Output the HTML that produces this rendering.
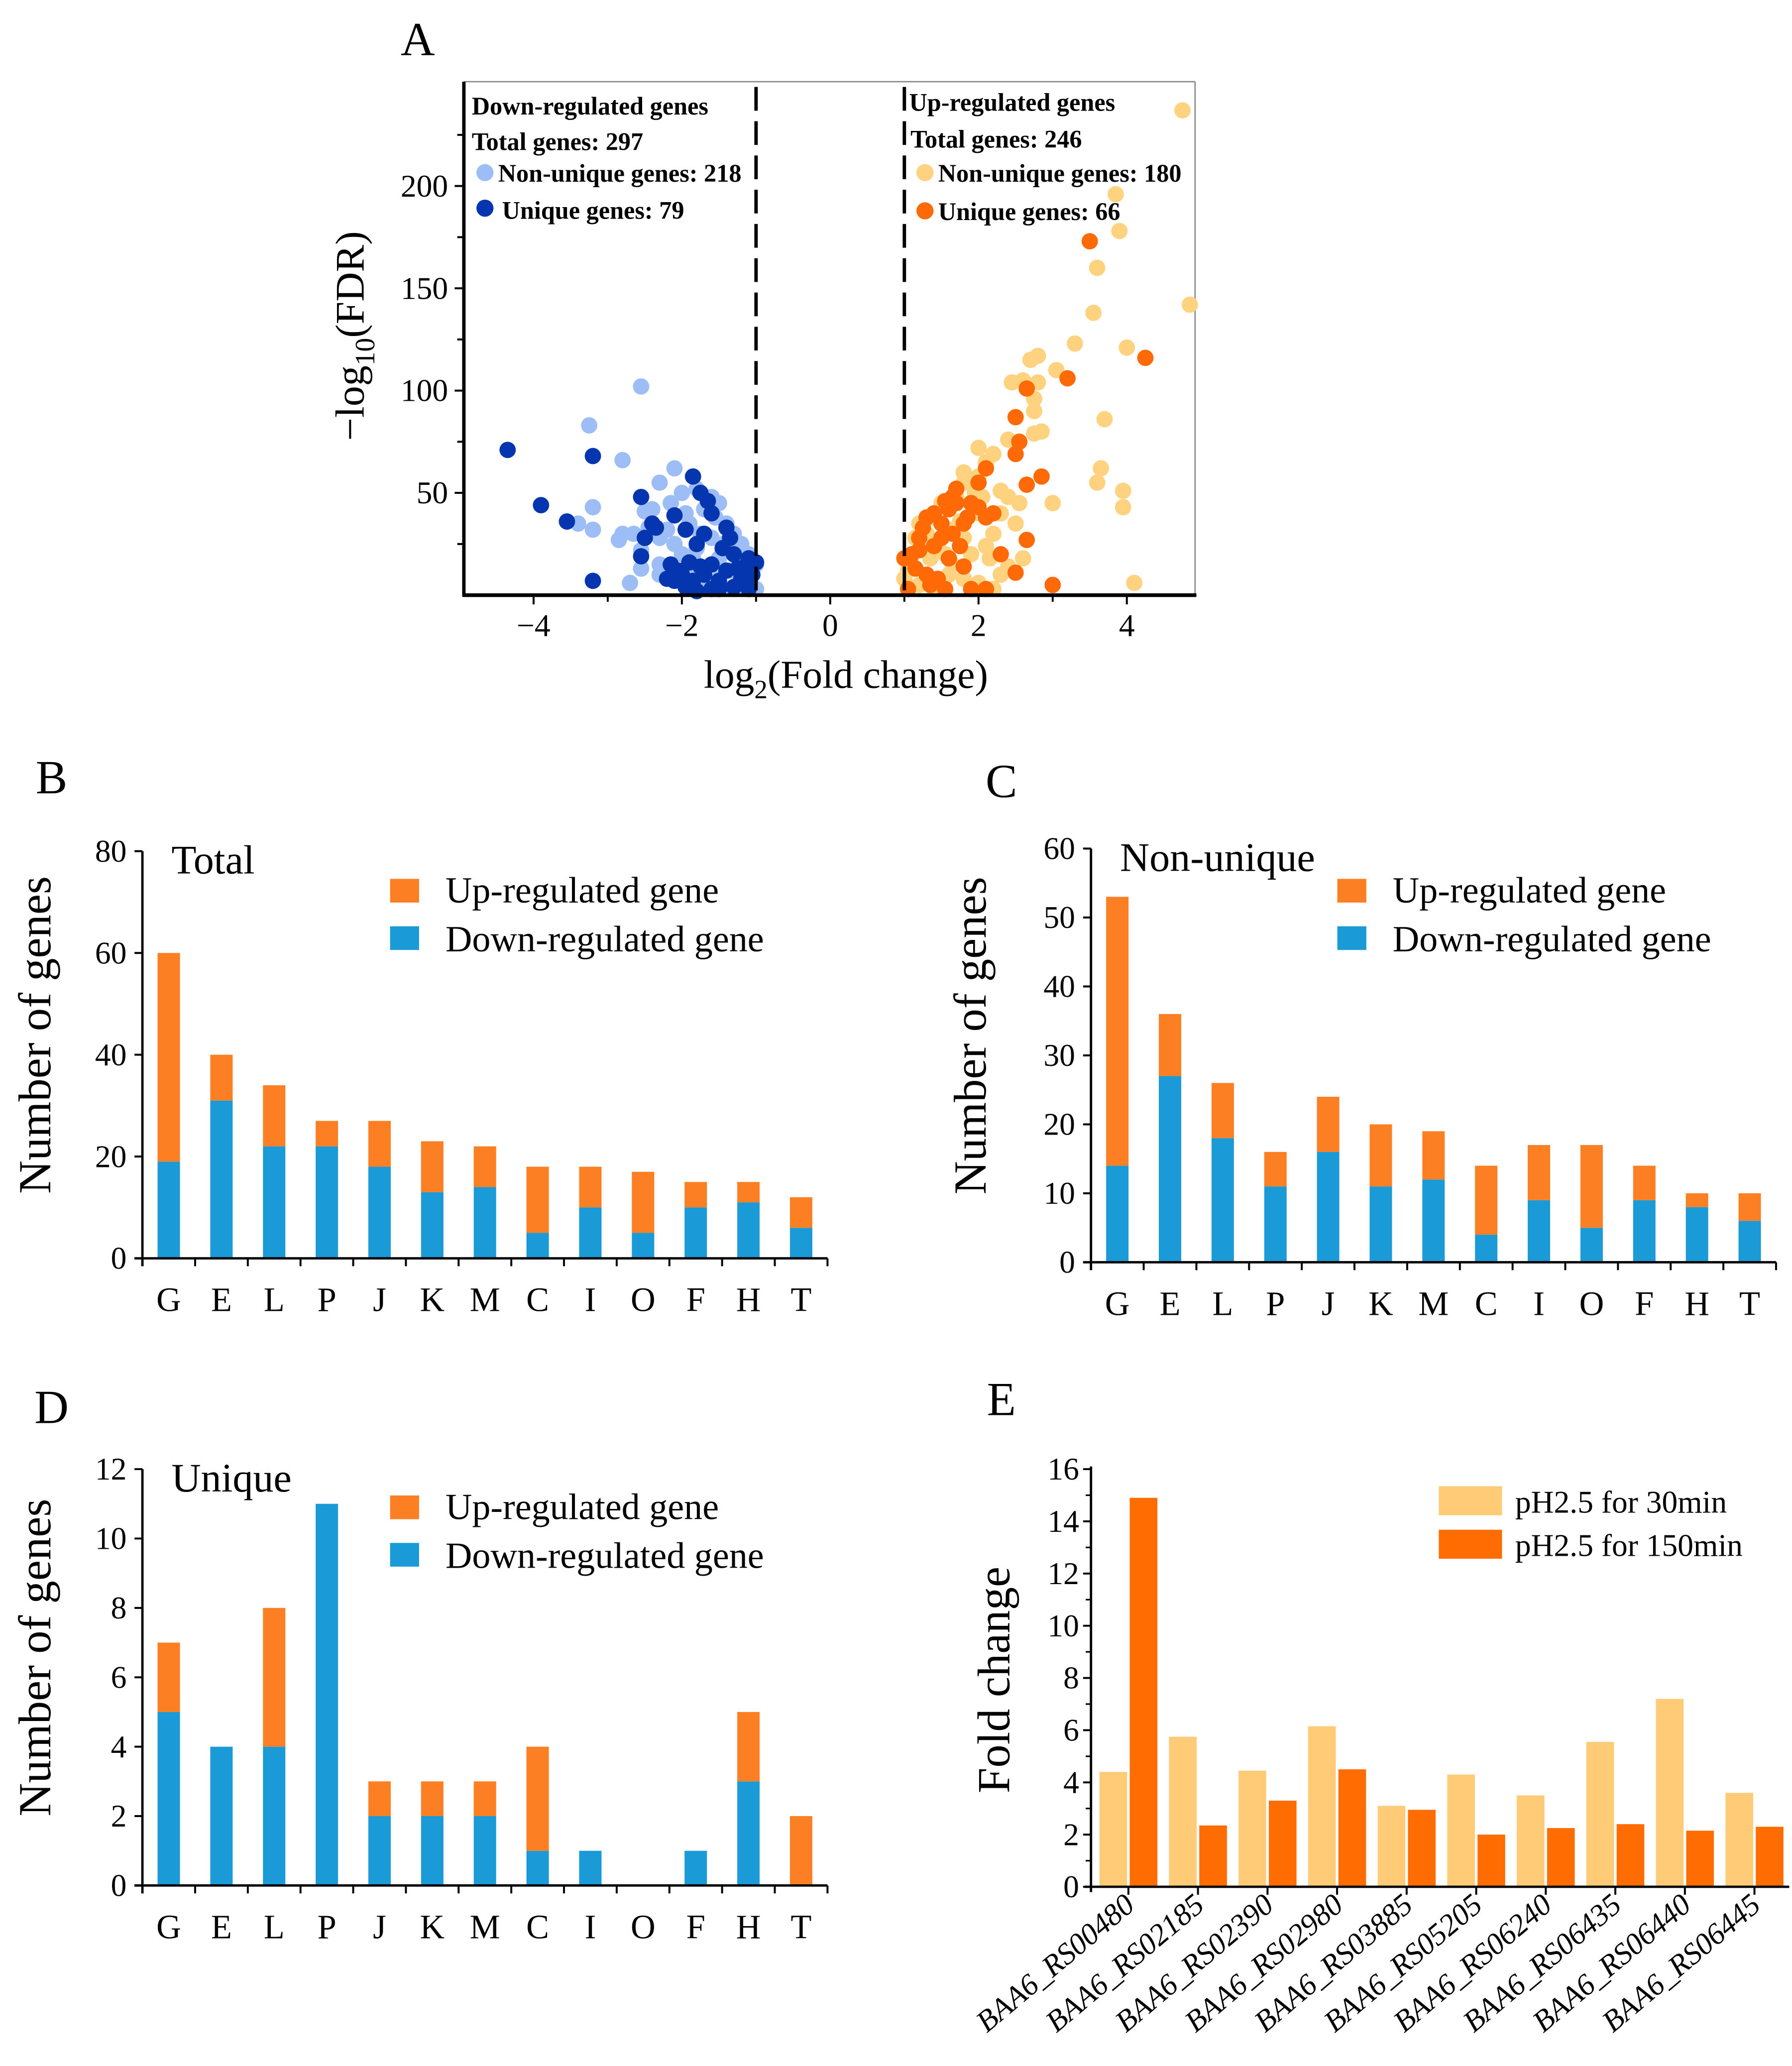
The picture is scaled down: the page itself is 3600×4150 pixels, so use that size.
<!DOCTYPE html>
<html><head><meta charset="utf-8">
<style>
html,body{margin:0;padding:0;background:#fff;}
svg{display:block;}
text{font-family:"Liberation Serif","DejaVu Serif",serif;fill:#000;}
</style></head>
<body>
<svg id="fig" xmlns="http://www.w3.org/2000/svg" width="3600" height="4150" viewBox="0 0 1360 1568">
<rect x="0" y="0" width="1360" height="1568" fill="#fff"/>
</svg>
<script>
// ---------- Panel A data ----------
const downNonUniqueX=[-2.55,-3.25,-2.8,-2.1,-2.3,-2.0,-1.8,-1.6,-1.5,-1.7,-2.4,-2.5,-3.2,-3.4,-3.2,-2.8,-2.85,-2.55,-2.3,-2.2,-1.9,-1.4,-1.3,-1.2,-1.1,-1.0,-1.05,-1.2,-2.55,-2.3,-2.3,-2.7,-1.6,-1.8,-1.5,-1.9,-1.35,-1.15,-1.7,-2.0,-1.45,-1.25,-1.6,-1.1,-2.1,-1.75,-1.55,-1.3,-1.0,-1.95,-2.15,-1.65,-1.85,-2.45,-2.65,-1.5,-1.4,-1.2];
const downNonUniqueY=[102,83,66,62,55,50,52,48,45,42,42,41,43,35,32,30,27,22,28,32,35,35,30,25,20,15,10,8,13,10,15,6,28,23,18,12,12,5,8,20,22,18,15,12,25,30,38,3,3,40,45,46,18,33,30,8,26,14];
const downUniqueX=[-4.35,-3.2,-1.85,-2.55,-1.75,-1.65,-2.1,-1.6,-3.9,-3.55,-2.4,-2.35,-1.95,-1.7,-2.5,-1.4,-1.35,-1.8,-1.45,-2.55,-2.15,-1.9,-1.6,-1.3,-1.1,-1.0,-3.2,-2.2,-2.0,-1.7,-1.5,-1.2,-1.05,-1.95,-1.6,-1.3,-1.1,-2.1,-1.85,-1.4,-1.25,-1.15,-1.75,-2.05,-1.5,-1.8];
const downUniqueY=[71,68,58,48,50,46,39,40,44,36,35,33,32,30,28,33,28,25,23,19,15,16,15,20,18,16,7,8,10,10,7,8,10,4,3,4,3,7,7,12,13,14,14,12,3,2];
const upNonUniqueX=[4.75,3.85,3.9,3.6,3.55,4.85,3.3,4.0,2.8,2.7,3.05,2.6,2.8,2.45,2.75,2.75,3.7,2.85,2.75,2.4,2.0,2.2,2.1,1.8,2.0,3.65,3.95,3.6,2.3,1.8,1.7,1.9,2.4,1.5,1.4,2.55,3.0,3.95,1.2,1.3,2.5,1.6,1.8,2.1,1.9,1.45,1.25,1.1,1.05,1.35,2.6,2.4,2.3,1.6,1.8,2.0,4.1,1.2,1.4,2.2,1.0,1.65,2.2,2.0,1.75,1.55,2.15,1.15,1.95,2.05,2.3];
const upNonUniqueY=[237,196,178,160,138,142,123,121,117,115,110,105,104,104,96,90,86,80,79,76,72,69,65,60,58,62,51,55,51,55,48,45,48,45,38,45,45,43,35,30,35,32,28,24,20,25,22,15,12,18,18,14,10,10,8,6,6,5,3,3,8,15,30,40,36,20,18,28,50,48,40];
const upUniqueX=[3.5,4.25,3.2,2.65,2.5,2.55,2.5,2.1,2.65,2.85,2.0,1.7,1.65,1.7,1.6,1.4,1.3,1.5,1.25,2.0,2.2,1.85,1.8,1.5,1.4,1.2,1.1,1.0,1.15,1.3,1.35,1.55,1.05,1.9,2.1,3.0,2.5,2.65,2.3,1.8,1.75,1.2,1.6,1.45,1.9,2.1,1.55,1.65];
const upUniqueY=[173,116,106,101,87,75,69,62,54,58,55,52,48,45,42,40,38,35,33,43,40,38,35,28,24,22,20,18,13,10,5,3,3,3,3,5,11,27,20,14,24,28,18,8,45,38,46,30];
const aXTicks=[-4,-2,0,2,4];
const aYTicks=[50,100,150,200];

// ---------- Panels B-D data ----------
const cogCats=['G','E','L','P','J','K','M','C','I','O','F','H','T'];
const totalDown=[19,31,22,22,18,13,14,5,10,5,10,11,6];
const totalUp=[41,9,12,5,9,10,8,13,8,12,5,4,6];
const nonUniqueDown=[14,27,18,11,16,11,12,4,9,5,9,8,6];
const nonUniqueUp=[39,9,8,5,8,9,7,10,8,12,5,2,4];
const uniqueDown=[5,4,4,11,2,2,2,1,1,0,1,3,0];
const uniqueUp=[2,0,4,0,1,1,1,3,0,0,0,2,2];
const totalTicks=[0,20,40,60,80];
const nonUniqueTicks=[0,10,20,30,40,50,60];
const uniqueTicks=[0,2,4,6,8,10,12];

// ---------- Panel E data ----------
const geneNames=['BAA6_RS00480','BAA6_RS02185','BAA6_RS02390','BAA6_RS02980','BAA6_RS03885','BAA6_RS05205','BAA6_RS06240','BAA6_RS06435','BAA6_RS06440','BAA6_RS06445'];
const fc30=[4.4,5.75,4.45,6.15,3.1,4.3,3.5,5.55,7.2,3.6];
const fc150=[14.9,2.35,3.3,4.5,2.95,2.0,2.25,2.4,2.15,2.3];
const fcTicks=[0,2,4,6,8,10,12,14,16];

const NS='http://www.w3.org/2000/svg';
const svg=document.getElementById('fig');
function mk(tag,attrs,parent,txt){const e=document.createElementNS(NS,tag);for(const k in attrs)e.setAttribute(k,attrs[k]);if(txt!==undefined)e.textContent=txt;(parent||svg).appendChild(e);return e;}

// ================= Panel A =================
const gA=mk('g',{});


const aL=352,aR=907,aT=62,aB=451.7,aXmin=-4.94,aXmax=4.92,aYmax=251;
const ax=v=>aL+(v-aXmin)/(aXmax-aXmin)*(aR-aL);
const ay=v=>aB-v/aYmax*(aB-aT);
let t;
t=mk('text',{x:317,y:42,'font-size':36,'text-anchor':'middle'},gA,'A');

mk('line',{x1:aL,y1:aT,x2:aR,y2:aT,stroke:'#888','stroke-width':1},gA);
mk('line',{x1:aR,y1:aT,x2:aR,y2:aB,stroke:'#888','stroke-width':1},gA);
function dots(xs,ys,col,name){
  for(let i=0;i<xs.length;i++){
    const c=mk('circle',{cx:ax(xs[i]),cy:ay(ys[i]),r:6.2,fill:col},gA);
    
    
  }
}
dots(downNonUniqueX,downNonUniqueY,'#9dbdf6','point-down-nonunique');
dots(upNonUniqueX,upNonUniqueY,'#ffd27f','point-up-nonunique');
dots(downUniqueX,downUniqueY,'#0635b0','point-down-unique');
dots(upUniqueX,upUniqueY,'#ff6a06','point-up-unique');
[-1,1].forEach(v=>{
  const l=mk('line',{x1:ax(v),y1:aT+4,x2:ax(v),y2:aB,stroke:'#000','stroke-width':2.6,'stroke-dasharray':'18,8'},gA);
  
});
mk('line',{x1:aL,y1:aT,x2:aL,y2:aB+1,stroke:'#000','stroke-width':2.6},gA);
mk('line',{x1:aL-1,y1:aB,x2:aR+1,y2:aB,stroke:'#000','stroke-width':2.8},gA);
for(let v=-4;v<=4;v++){mk('line',{x1:ax(v),y1:aB,x2:ax(v),y2:aB+(v%2===0?7:5),stroke:'#000','stroke-width':1.5},gA);}
aXTicks.forEach(v=>{const e=mk('text',{x:ax(v),y:aB+31,'font-size':24,'text-anchor':'middle'},gA,v<0?'\u2212'+(-v):String(v));});
for(let v=25;v<=225;v+=25){mk('line',{x1:aL-(v%50===0?7:5),y1:ay(v),x2:aL,y2:ay(v),stroke:'#000','stroke-width':1.5},gA);}
aYTicks.forEach(v=>{const e=mk('text',{x:aL-12,y:ay(v)+8,'font-size':24,'text-anchor':'end'},gA,String(v));});
t=mk('text',{x:0,y:0,'font-size':31,'text-anchor':'middle',transform:'translate(276,255) rotate(-90)'},gA);

mk('tspan',{},t,'\u2212log');mk('tspan',{'font-size':21,dy:8},t,'10');mk('tspan',{dy:-8},t,'(FDR)');
t=mk('text',{x:642,y:522,'font-size':30,'text-anchor':'middle'},gA);

mk('tspan',{},t,'log');mk('tspan',{'font-size':20,dy:8},t,'2');mk('tspan',{dy:-8},t,'(Fold change)');
function lt(x,y,s,name){const e=mk('text',{x:x,y:y,'font-size':19,'font-weight':'bold'},gA,s);return e;}
lt(358,87,'Down-regulated genes','down-legend-title');
lt(358,114,'Total genes: 297','down-total-label');
lt(378,138,'Non-unique genes: 218','down-nonunique-label');
lt(381,166,'Unique genes: 79','down-unique-label');
lt(690,84,'Up-regulated genes','up-legend-title');
lt(691,112,'Total genes: 246','up-total-label');
lt(712,138,'Non-unique genes: 180','up-nonunique-label');
lt(712,167,'Unique genes: 66','up-unique-label');
[[368,131,'#9dbdf6'],[368,158,'#0635b0'],[702,131,'#ffd27f'],[702,160,'#ff6a06']].forEach(p=>{const c=mk('circle',{cx:p[0],cy:p[1],r:6.5,fill:p[2]},gA);});

// ================= Stacked bars B, C, D =================
function stacked(opt){
  const g=mk('g',{});
  
  
  const x0=opt.x0,band=40,y0=opt.y0,ymax=opt.ticks[opt.ticks.length-1];
  const sy=v=>y0-v/ymax*(y0-opt.yTop);
  const xEnd=x0+band*cogCats.length;
  let e=mk('text',{x:opt.labX,y:opt.labY,'font-size':36,'text-anchor':'middle'},g,opt.letter);
  
  e=mk('text',{x:opt.x0+22,y:opt.yTop+17,'font-size':31},g,opt.title);
  
  cogCats.forEach((c,i)=>{
    const cx=x0+band*(i+0.5),w=17;
    const d=opt.down[i],u=opt.up[i];
    if(d>0){const r=mk('rect',{x:cx-w/2,y:sy(d),width:w,height:sy(0)-sy(d),fill:'#1a9bd7'},g);}
    if(u>0){const r=mk('rect',{x:cx-w/2,y:sy(d+u),width:w,height:sy(d)-sy(d+u),fill:'#fd7f23'},g);}
    const l=mk('text',{x:cx,y:y0+40,'font-size':26,'text-anchor':'middle'},g,c);
    
  });
  mk('line',{x1:x0,y1:opt.yTop,x2:x0,y2:y0+6,stroke:'#000','stroke-width':1.8},g);
  mk('line',{x1:x0-6,y1:y0,x2:xEnd,y2:y0,stroke:'#000','stroke-width':1.8},g);
  for(let i=0;i<=cogCats.length;i++){mk('line',{x1:x0+band*i,y1:y0,x2:x0+band*i,y2:y0+6,stroke:'#000','stroke-width':1.5},g);}
  opt.ticks.forEach(v=>{
    mk('line',{x1:x0-6,y1:sy(v),x2:x0,y2:sy(v),stroke:'#000','stroke-width':1.5},g);
    const l=mk('text',{x:x0-12,y:sy(v)+8,'font-size':24,'text-anchor':'end'},g,String(v));
    
  });
  e=mk('text',{x:0,y:0,'font-size':35,'text-anchor':'middle',transform:'translate('+opt.ylabX+','+((opt.yTop+y0)/2-15)+') rotate(-90)'},g,'Number of genes');
  
  const lx=opt.legX;
  let r=mk('rect',{x:lx,y:opt.legY,width:22,height:18,fill:'#fd7f23'},g);
  e=mk('text',{x:lx+42,y:opt.legY+18,'font-size':28},g,'Up-regulated gene');
  r=mk('rect',{x:lx,y:opt.legY+36,width:22,height:18,fill:'#1a9bd7'},g);
  e=mk('text',{x:lx+42,y:opt.legY+55,'font-size':28},g,'Down-regulated gene');
}
stacked({name:'chart-total',letter:'B',labX:39,labY:602,title:'Total',x0:108,y0:955,yTop:646,ticks:totalTicks,down:totalDown,up:totalUp,ylabX:38,legX:296,legY:667});
stacked({name:'chart-nonunique',letter:'C',labX:760,labY:605,title:'Non-unique',x0:828,y0:958,yTop:644,ticks:nonUniqueTicks,down:nonUniqueDown,up:nonUniqueUp,ylabX:748,legX:1015,legY:667});
stacked({name:'chart-unique',letter:'D',labX:39,labY:1080,title:'Unique',x0:108,y0:1431,yTop:1115,ticks:uniqueTicks,down:uniqueDown,up:uniqueUp,ylabX:38,legX:296,legY:1135});

// ================= Panel E =================
(function(){
  const g=mk('g',{});
  
  
  const x0=828,y0=1432,yTop=1115,band=52.8,ymax=16;
  const sy=v=>y0-v/ymax*(y0-yTop);
  const xEnd=x0+band*geneNames.length+2;
  let e=mk('text',{x:760,y:1074,'font-size':36,'text-anchor':'middle'},g,'E');
  
  geneNames.forEach((n,i)=>{
    const c=x0+band*(i+0.5)+2;
    let r=mk('rect',{x:c-22,y:sy(fc30[i]),width:21,height:sy(0)-sy(fc30[i]),fill:'#ffcb77'},g);
    
    r=mk('rect',{x:c+1,y:sy(fc150[i]),width:21,height:sy(0)-sy(fc150[i]),fill:'#ff6c02'},g);
    
    mk('line',{x1:c,y1:y0,x2:c,y2:y0+6,stroke:'#000','stroke-width':1.5},g);
    const l=mk('text',{x:0,y:0,'font-size':23,'font-style':'italic','text-anchor':'end',transform:'translate('+(c+6)+','+(y0+16)+') rotate(-40)'},g,n);
    
  });
  mk('line',{x1:x0,y1:yTop-2,x2:x0,y2:y0+4,stroke:'#000','stroke-width':1.8},g);
  mk('line',{x1:x0-5,y1:y0,x2:xEnd,y2:y0,stroke:'#000','stroke-width':1.8},g);
  fcTicks.forEach(v=>{
    mk('line',{x1:x0-6,y1:sy(v),x2:x0,y2:sy(v),stroke:'#000','stroke-width':1.5},g);
    if(v<16)mk('line',{x1:x0-4,y1:sy(v+1),x2:x0,y2:sy(v+1),stroke:'#000','stroke-width':1.2},g);
    const l=mk('text',{x:x0-9,y:sy(v)+8,'font-size':24,'text-anchor':'end'},g,String(v));
    
  });
  e=mk('text',{x:0,y:0,'font-size':35,'text-anchor':'middle',transform:'translate(766,1275) rotate(-90)'},g,'Fold change');
  
  let r=mk('rect',{x:1092,y:1128,width:48,height:22,fill:'#ffcb77'},g);
  e=mk('text',{x:1150,y:1148,'font-size':24},g,'pH2.5 for 30min');
  r=mk('rect',{x:1092,y:1161,width:48,height:22,fill:'#ff6c02'},g);
  e=mk('text',{x:1150,y:1181,'font-size':24},g,'pH2.5 for 150min');
})();
</script>
</body></html>
